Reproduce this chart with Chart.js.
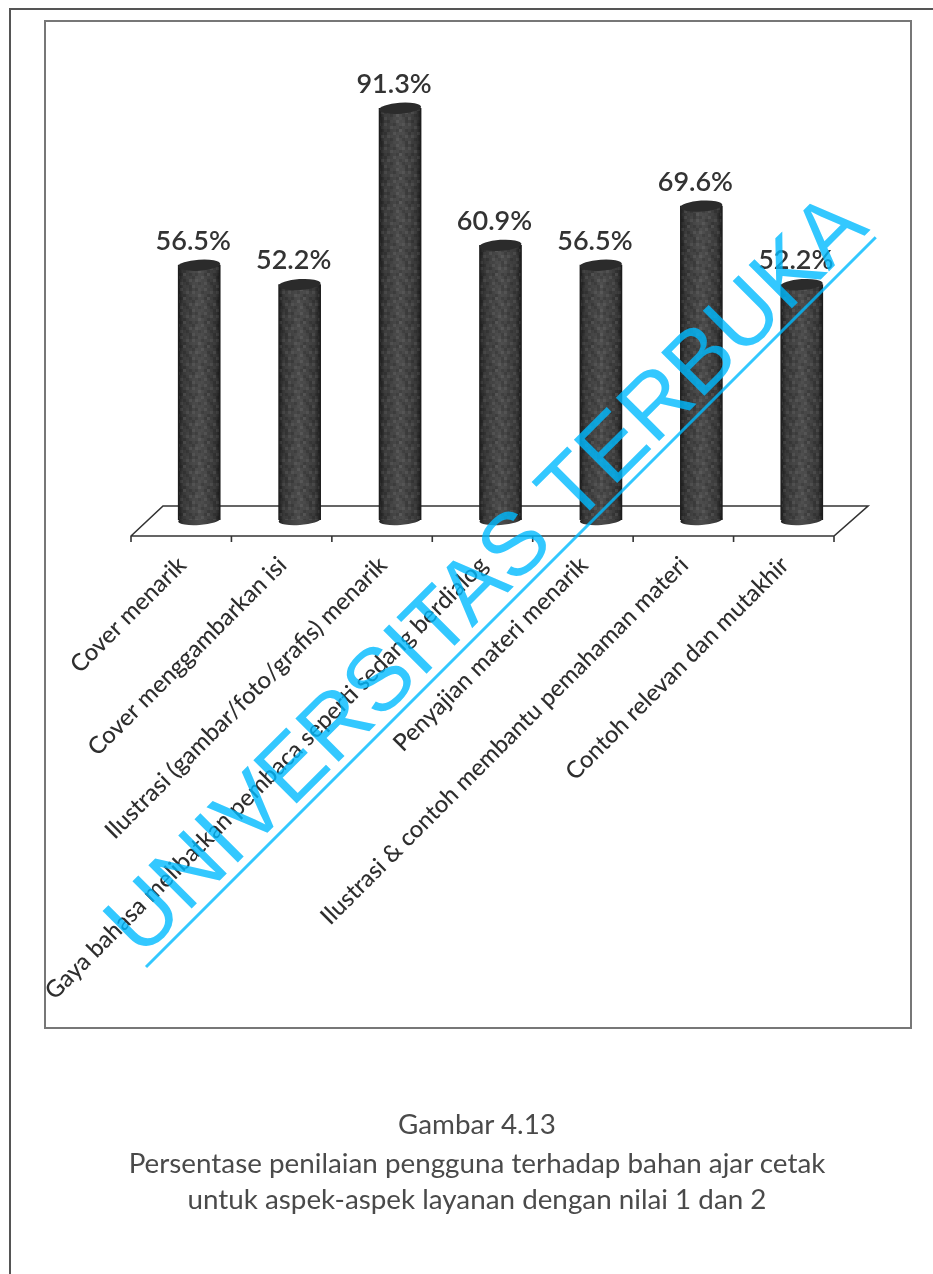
<!DOCTYPE html>
<html>
<head>
<meta charset="utf-8">
<title>Gambar 4.13</title>
<script src="https://cdn.jsdelivr.net/npm/chart.js@4/dist/chart.umd.min.js"></script>
<style>
html, body { margin: 0; padding: 0; background: #fff; }
#page { position: relative; width: 933px; height: 1274px; overflow: hidden; }
#chart { position: absolute; left: 0; top: 0; }
.outer { position: absolute; left: 9px; top: 8px; width: 940px; height: 1300px; border: 2px solid #555; box-sizing: border-box; }
.inner { position: absolute; left: 44px; top: 20px; width: 868px; height: 1009px; border: 2px solid #777; box-sizing: border-box; }
.caption { position: absolute; left: 0; width: 954px; text-align: center; font-family: Lato, sans-serif; font-size: 27.8px; color: #4a4a4a; white-space: nowrap; }
</style>
</head>
<body>
<div id="page">
  <div class="outer"></div>
  <div class="inner"></div>
  <canvas id="chart" width="933" height="1274"></canvas>
  <div class="caption" style="top:1107px">Gambar 4.13</div>
  <div class="caption" style="top:1146px">Persentase penilaian pengguna terhadap bahan ajar cetak</div>
  <div class="caption" style="top:1182px">untuk aspek-aspek layanan dengan nilai 1 dan 2</div>
</div>
<script>
var categories = [
  "Cover menarik",
  "Cover menggambarkan isi",
  "Ilustrasi (gambar/foto/grafis) menarik",
  "Gaya bahasa melibatkan pembaca seperti sedang berdialog",
  "Penyajian materi menarik",
  "Ilustrasi & contoh membantu pemahaman materi",
  "Contoh relevan dan mutakhir"
];
var percentValues = [56.5, 52.2, 91.3, 60.9, 56.5, 69.6, 52.2];

var barWidth = 42;

// fixed speckle tile for the printed look of the bars
var speckle = [
  0, 2, 1, 0, 3, 0, 1, 2,
  3, 0, 0, 2, 0, 1, 3, 0,
  1, 0, 3, 1, 0, 2, 0, 1,
  0, 2, 0, 0, 2, 3, 0, 2,
  2, 1, 0, 3, 0, 0, 1, 0,
  0, 3, 1, 0, 1, 2, 0, 3,
  1, 0, 2, 0, 3, 0, 2, 0,
  3, 0, 0, 1, 0, 1, 0, 2
];

function speckleTile() {
  var tile = document.createElement("canvas");
  tile.width = tile.height = 24;
  var t = tile.getContext("2d");
  speckle.forEach(function (v, i) {
    if (!v) return;
    t.fillStyle = v === 2 ? "rgba(0,0,0,0.12)" : "rgba(255,255,255," + (0.025 * v) + ")";
    t.fillRect((i % 8) * 3, Math.floor(i / 8) * 3, 3, 3);
  });
  return tile;
}

function cylinderFill(ctx, x) {
  var g = ctx.createLinearGradient(x - barWidth / 2, 0, x + barWidth / 2, 0);
  g.addColorStop(0, "#1c1c1c");
  g.addColorStop(0.12, "#383838");
  g.addColorStop(0.5, "#4c4c4c");
  g.addColorStop(0.88, "#383838");
  g.addColorStop(1, "#1a1a1a");
  return g;
}

// pseudo 3d floor, sits a bit in front of and behind the bars
var floorPlugin = {
  id: "floor",
  beforeDatasetsDraw: function (chart) {
    var ctx = chart.ctx, bottom = chart.chartArea.bottom;
    var left = chart.chartArea.left - 18, right = chart.chartArea.right - 18;
    var front = bottom + 16, back = bottom - 14;
    ctx.save();
    ctx.strokeStyle = "#333";
    ctx.lineWidth = 1.6;
    ctx.beginPath();
    ctx.moveTo(left, front + 6);
    ctx.lineTo(left, front);
    ctx.lineTo(left + 32, back);
    ctx.lineTo(right + 34, back);
    ctx.lineTo(right, front);
    ctx.lineTo(left, front);
    for (var i = 1; i <= categories.length; i++) {
      var t = left + i * (right - left) / categories.length;
      ctx.moveTo(t, front);
      ctx.lineTo(t, front + 6);
    }
    ctx.stroke();
    // bottom caps of the cylinders
    chart.getDatasetMeta(0).data.forEach(function (bar) {
      ctx.fillStyle = cylinderFill(ctx, bar.x);
      ctx.beginPath();
      ctx.ellipse(bar.x, bar.base, barWidth / 2, 5, -0.07, 0, Math.PI * 2);
      ctx.fill();
    });
    ctx.restore();
  }
};

// grain, top caps and the value above each bar
var capPlugin = {
  id: "caps",
  afterDatasetsDraw: function (chart) {
    var ctx = chart.ctx;
    var grain = ctx.createPattern(speckleTile(), "repeat");
    ctx.save();
    chart.getDatasetMeta(0).data.forEach(function (bar, i) {
      ctx.fillStyle = grain;
      ctx.fillRect(bar.x - barWidth / 2 + 1, bar.y, barWidth - 2, bar.base - bar.y);
      ctx.fillStyle = "#2b2b2b";
      ctx.beginPath();
      ctx.ellipse(bar.x, bar.y, barWidth / 2, 5.5, -0.07, 0, Math.PI * 2);
      ctx.fill();
      ctx.fillStyle = "#333";
      ctx.font = "600 27px Lato, sans-serif";
      ctx.textAlign = "center";
      ctx.textBaseline = "middle";
      ctx.fillText(percentValues[i].toFixed(1) + "%", bar.x - 6, bar.y - 24);
    });
    ctx.restore();
  }
};

var watermarkPlugin = {
  id: "watermark",
  afterDraw: function (chart) {
    var ctx = chart.ctx;
    ctx.save();
    ctx.translate(146, 967);
    ctx.rotate(-Math.PI / 4);
    ctx.globalAlpha = 0.8;
    ctx.fillStyle = "#00baff";
    ctx.fillRect(0, -1.5, 1032, 3);
    ctx.font = "89px 'Liberation Sans', Arial, sans-serif";
    ctx.textAlign = "left";
    ctx.textBaseline = "alphabetic";
    ctx.fillText("UNIVERSITAS TERBUKA", 2, -9);
    ctx.restore();
  }
};

new Chart(document.getElementById("chart").getContext("2d"), {
  type: "bar",
  data: {
    labels: categories,
    datasets: [{
      data: percentValues,
      barThickness: barWidth,
      backgroundColor: function (c) {
        var x = c.chart.scales.x.getPixelForValue(c.dataIndex);
        return isFinite(x) ? cylinderFill(c.chart.ctx, x) : "#444";
      }
    }]
  },
  options: {
    responsive: false,
    animation: false,
    layout: { padding: { left: 149, right: 81, top: 69, bottom: 0 } },
    plugins: { legend: { display: false }, tooltip: { enabled: false } },
    scales: {
      x: {
        grid: { display: false },
        border: { display: false },
        afterFit: function (s) { s.height = 754; },
        ticks: {
          maxRotation: 45,
          minRotation: 45,
          autoSkip: false,
          padding: 23,
          labelOffset: -17,
          color: "#2e2e2e",
          font: { family: "Lato, sans-serif", size: 23.8, weight: "500" }
        }
      },
      y: {
        display: false,
        min: 0,
        max: 100
      }
    }
  },
  plugins: [floorPlugin, capPlugin, watermarkPlugin]
});
</script>
</body>
</html>
